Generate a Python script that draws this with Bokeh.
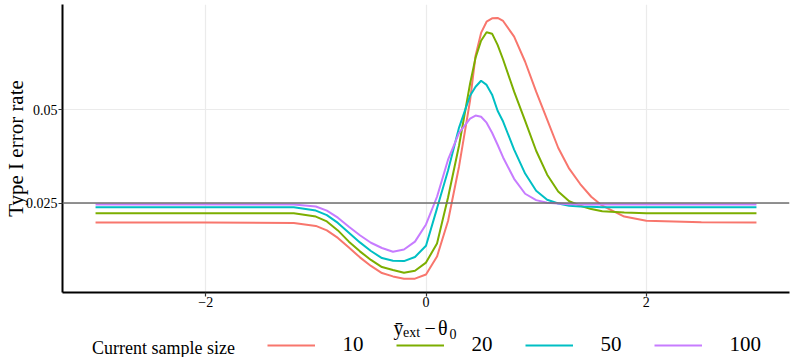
import math
from bokeh.plotting import figure
from bokeh.layouts import column
from bokeh.models import Range1d, Label, Legend, LegendItem, Span
from bokeh.embed import file_html
from bokeh.resources import INLINE

# ---- data ----
x_vals = [-3.0, -2.0, -1.2, -1.0, -0.9, -0.8, -0.7, -0.6, -0.5, -0.4, -0.3, -0.2, -0.1,
          0.0, 0.1, 0.2, 0.3, 0.4, 0.45, 0.5, 0.55, 0.6, 0.65, 0.7, 0.8, 0.9, 1.0,
          1.1, 1.2, 1.3, 1.4, 1.5, 1.6, 1.8, 2.0, 2.5, 3.0]

rate_n10 = [0.0198, 0.0198, 0.0197, 0.0189, 0.0177, 0.0157, 0.0131, 0.0105, 0.0082, 0.0063, 0.0054, 0.0048, 0.0048,
            0.0059, 0.0107, 0.0202, 0.0348, 0.0524, 0.0644, 0.0705, 0.0735, 0.0744, 0.0745, 0.0737, 0.0695, 0.0628, 0.0548,
            0.0473, 0.0398, 0.0342, 0.0301, 0.0267, 0.0243, 0.0214, 0.0203, 0.0199, 0.0198]

rate_n20 = [0.0223, 0.0223, 0.0223, 0.0214, 0.0201, 0.0177, 0.0147, 0.0121, 0.0098, 0.0079, 0.0071, 0.0064, 0.0069,
            0.0091, 0.0142, 0.0265, 0.0404, 0.0569, 0.0639, 0.0684, 0.0707, 0.0703, 0.0673, 0.0634, 0.0548, 0.0470, 0.0390,
            0.0326, 0.0281, 0.0255, 0.0243, 0.0234, 0.0228, 0.0225, 0.0223, 0.0223, 0.0223]

rate_n50 = [0.0239, 0.0239, 0.0239, 0.0230, 0.0218, 0.0197, 0.0171, 0.0145, 0.0122, 0.0103, 0.0096, 0.0095, 0.0106,
            0.0136, 0.0236, 0.0337, 0.0452, 0.0537, 0.0561, 0.0577, 0.0566, 0.0540, 0.0497, 0.0468, 0.0393, 0.0329, 0.0283,
            0.0259, 0.0249, 0.0243, 0.0241, 0.0240, 0.0239, 0.0239, 0.0239, 0.0239, 0.0239]

rate_n100 = [0.0246, 0.0246, 0.0246, 0.0241, 0.0230, 0.0211, 0.0187, 0.0164, 0.0144, 0.0130, 0.0120, 0.0126, 0.0147,
             0.0193, 0.0267, 0.0366, 0.0438, 0.0476, 0.0484, 0.0481, 0.0465, 0.0438, 0.0406, 0.0372, 0.0315, 0.0275, 0.0258,
             0.0251, 0.0249, 0.0247, 0.0246, 0.0246, 0.0246, 0.0246, 0.0246, 0.0246, 0.0246]

sample_sizes = ["10", "20", "50", "100"]
series = [rate_n10, rate_n20, rate_n50, rate_n100]
colors = ["#F8766D", "#7CAE00", "#00BFC4", "#C77CFF"]

nominal_alpha = 0.025
x_ticks = [-2, 0, 2]
x_tick_labels = ["\u22122", "0", "2"]
y_ticks = [0.025, 0.05]
y_tick_labels = ["0.025", "0.05"]

FONT = "Liberation Serif"

# ---- main panel ----
p = figure(width=793, height=314, output_backend="svg", toolbar_location=None,
           x_range=Range1d(-3.3, 3.3), y_range=Range1d(0.0011, 0.0781),
           min_border_left=62, min_border_right=4, min_border_top=4, min_border_bottom=22)
p.outline_line_color = None
p.background_fill_color = "white"
p.border_fill_color = "white"

for g in (p.xgrid, p.ygrid):
    g.grid_line_color = "#EBEBEB"
    g.grid_line_width = 1.2
    g.minor_grid_line_color = None

p.xaxis.ticker = x_ticks
p.xaxis.major_label_overrides = dict(zip(x_ticks, x_tick_labels))
p.yaxis.ticker = y_ticks
p.yaxis.major_label_overrides = dict(zip(y_ticks, y_tick_labels))

for ax in (p.xaxis, p.yaxis):
    ax.axis_line_color = "black"
    ax.axis_line_width = 2
    ax.major_tick_line_color = "#333333"
    ax.major_tick_line_width = 1.2
    ax.major_tick_out = 4
    ax.major_tick_in = 0
    ax.minor_tick_line_color = None
    ax.major_label_text_font = FONT
    ax.major_label_text_font_size = "14px"
    ax.major_label_text_color = "black"
p.xaxis.axis_label = None
p.xaxis.major_label_standoff = 0
p.yaxis.major_label_standoff = 1
p.yaxis.axis_label = "Type I error rate"
p.yaxis.axis_label_text_font = FONT
p.yaxis.axis_label_text_font_size = "21px"
p.yaxis.axis_label_text_font_style = "normal"
p.yaxis.axis_label_text_color = "black"
p.yaxis.axis_label_standoff = -5

for ys, c in zip(series, colors):
    p.line(x_vals, ys, line_color=c, line_width=2)

p.add_layout(Span(location=nominal_alpha, dimension="width", line_color="#6e6e6e", line_width=1.5))

# ---- bottom strip: x title + legend (frame aligned with main frame, left = 62px) ----
q = figure(width=793, height=43, output_backend="svg", toolbar_location=None,
           x_range=Range1d(-3.3, 3.3), y_range=Range1d(10, 11),
           min_border_left=62, min_border_right=4, min_border_top=0, min_border_bottom=0)
q.axis.visible = False
q.grid.visible = False
q.outline_line_color = None
q.background_fill_color = "white"
q.border_fill_color = "white"

# legend keys: same series, drawn outside this strip's visible range
keys = [q.line(x_vals, ys, line_color=c, line_width=2) for ys, c in zip(series, colors)]
legend = Legend(items=[LegendItem(label=s, renderers=[r]) for s, r in zip(sample_sizes, keys)],
                orientation="horizontal", location=(204.5, 0),
                glyph_width=48, glyph_height=20, label_height=20, label_width=21,
                label_standoff=28, spacing=32, padding=0, margin=0,
                border_line_alpha=0, background_fill_alpha=0,
                label_text_font=FONT, label_text_font_size="21px", label_text_color="black")
q.add_layout(legend)

q.add_layout(Label(x=29.5, y=10, x_units="screen", y_units="screen", text="Current sample size",
                   text_font=FONT, text_font_size="18px", text_baseline="middle", text_align="left",
                   text_color="black"))

# x axis title: ȳ_ext − θ_0
xt = [("\u0233", 331, 30, "20px"), ("ext", 340.5, 25, "14px"),
      ("\u2212", 362, 30, "20px"), ("\u03b8", 375.5, 30, "20px"), ("0", 387, 24, "14px")]
for t, sx, sy, fs in xt:
    q.add_layout(Label(x=sx, y=sy, x_units="screen", y_units="screen", text=t,
                       text_font=FONT, text_font_size=fs, text_baseline="alphabetic",
                       text_align="left", text_color="black"))

layout = column(p, q, spacing=0)
open("out.html", "w").write(file_html(layout, INLINE))
